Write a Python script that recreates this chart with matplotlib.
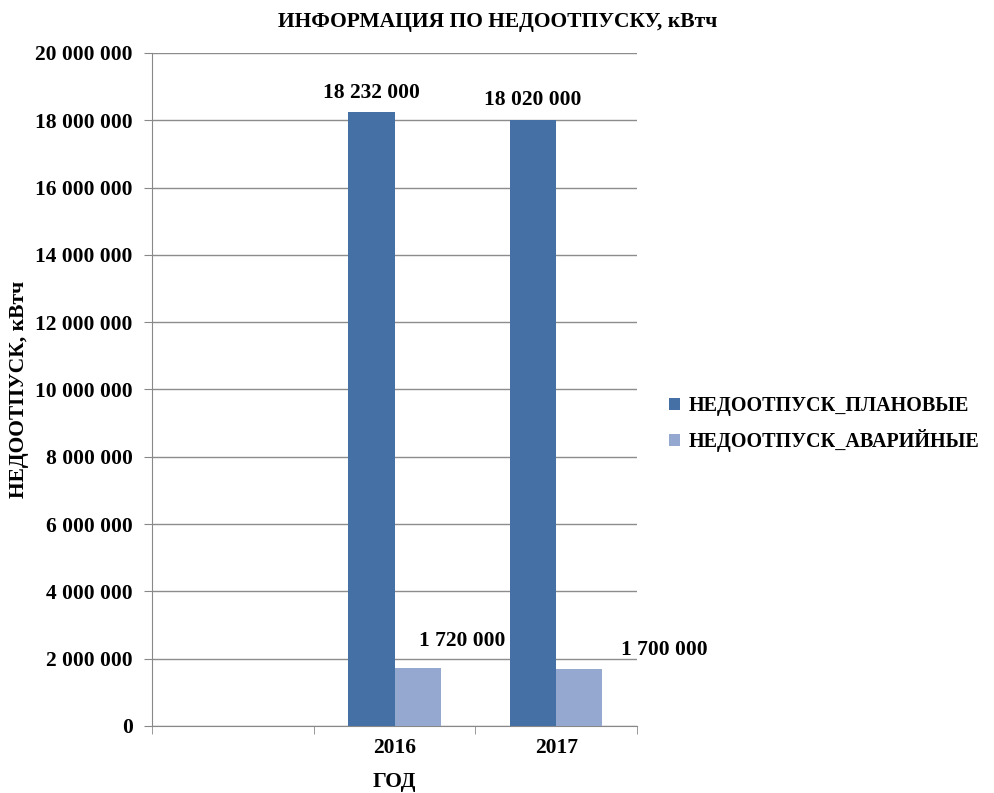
import numpy as np
import matplotlib.pyplot as plt
from matplotlib.ticker import FuncFormatter

plt.rcParams['font.family'] = ['Liberation Serif', 'DejaVu Serif']
plt.rcParams['font.weight'] = 'bold'

# data
years = ['', '2016', '2017']
planned = [np.nan, 18232000, 18020000]
emergency = [np.nan, 1720000, 1700000]
series_names = ['НЕДООТПУСК_ПЛАНОВЫЕ', 'НЕДООТПУСК_АВАРИЙНЫЕ']

c_plan = '#4570a6'
c_emer = '#95a9d0'
fs = 15.5

fig = plt.figure(figsize=(9.95, 7.93), dpi=100)
ax = fig.add_axes([0.1528, 0.0845, 0.4874, 0.8487])

x = np.arange(len(years))
w = 0.285
b1 = ax.bar(x - w/2, planned, w, color=c_plan, label=series_names[0], zorder=3)
b2 = ax.bar(x + w/2, emergency, w, color=c_emer, label=series_names[1], zorder=3)

def fmt(v):
    return '{:,}'.format(int(v)).replace(',', ' ')

# value labels (placement as in the original, slightly shifted)
for r, v in zip(b1.patches[1:], planned[1:]):
    ax.annotate(fmt(v), (r.get_x() + r.get_width()/2, v), xytext=(0, 7),
                textcoords='offset points', ha='center', va='bottom', fontsize=fs)
offs = [(32, 12), (61, 6)]
for r, v, o in zip(b2.patches[1:], emergency[1:], offs):
    ax.annotate(fmt(v), (r.get_x() + r.get_width()/2, v), xytext=o,
                textcoords='offset points', ha='center', va='bottom', fontsize=fs)

ax.set_xlim(-0.5, 2.5)
ax.set_ylim(0, 20000000)
ax.set_yticks(np.arange(0, 20000001, 2000000))
ax.yaxis.set_major_formatter(FuncFormatter(lambda v, p: fmt(v)))
ax.set_xticks(x)
ax.set_xticklabels(years)
ax.set_xticks(np.arange(-0.5, 3, 1), minor=True)
ax.tick_params(axis='x', which='major', length=0, labelsize=fs, pad=9)
ax.tick_params(axis='x', which='minor', length=6, color='#888888')
ax.tick_params(axis='y', length=6, color='#888888', labelsize=fs, pad=8)

ax.grid(axis='y', color='#8c8c8c', linewidth=1, zorder=0)
for s in ['top', 'right']:
    ax.spines[s].set_visible(False)
for s in ['left', 'bottom']:
    ax.spines[s].set_color('#888888')

ax.set_xlabel('ГОД', fontsize=fs, fontweight='bold', labelpad=10)
ax.set_ylabel('НЕДООТПУСК, кВтч', fontsize=fs, fontweight='bold', labelpad=4)
fig.text(0.5, 0.972, 'ИНФОРМАЦИЯ ПО НЕДООТПУСКУ, кВтч', ha='center', va='center',
         fontsize=fs, fontweight='bold')

fig.legend(handles=[b1, b2], loc='center left', bbox_to_anchor=(0.662, 0.465),
           frameon=False, fontsize=14.5, handlelength=0.55, handleheight=0.55,
           handletextpad=0.45, labelspacing=0.65, borderpad=0)

fig.savefig('out.png', dpi=100)
